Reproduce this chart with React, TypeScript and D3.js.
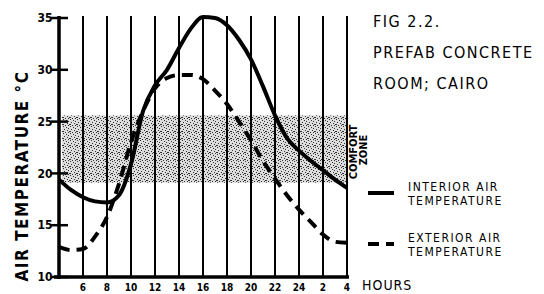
import React, { useEffect, useRef } from "react";
import * as d3 from "d3";

// hours since midnight (28 = 4am next day)
const hours = [4, 5, 6, 7, 8, 9, 10, 11, 12, 13, 14, 15, 16, 17, 18, 19, 20, 21, 22, 23, 24, 25, 26, 27, 28];
const interiorTemp = [19.4, 18.4, 17.7, 17.3, 17.2, 17.9, 20.9, 26.0, 28.5, 30.0, 32.1, 34.0, 35.1, 35.0, 34.3, 32.9, 31.0, 28.4, 25.6, 23.4, 22.2, 21.2, 20.3, 19.4, 18.6];
const exteriorTemp = [12.9, 12.6, 12.7, 13.9, 15.8, 19.0, 23.0, 26.0, 28.2, 29.2, 29.5, 29.5, 29.1, 28.0, 26.7, 25.0, 23.2, 21.2, 19.5, 17.9, 16.5, 15.3, 14.1, 13.4, 13.3];

const gridHours = [6, 8, 10, 12, 14, 16, 18, 20, 22, 24, 26, 28];
const hourLabels = ["6", "8", "10", "12", "14", "16", "18", "20", "22", "24", "2", "4"];
const tempTicks = [10, 15, 20, 25, 30, 35];
const comfortZone = [19.1, 25.6];

const titleLines = ["FIG 2.2.", "PREFAB CONCRETE", "ROOM; CAIRO"];

const FONT = "'DejaVu Sans Condensed', 'DejaVu Sans', sans-serif";

function App() {
  const ref = useRef(null);

  useEffect(() => {
    const svg = d3.select(ref.current);
    svg.selectAll("*").remove();

    const x = d3.scaleLinear().domain([4, 28]).range([59, 347]);
    const y = d3.scaleLinear().domain([10, 35]).range([277, 18]);

    // stipple pattern for comfort zone
    const defs = svg.append("defs");
    const pat = defs
      .append("pattern")
      .attr("id", "stipple")
      .attr("width", 7)
      .attr("height", 7)
      .attr("patternUnits", "userSpaceOnUse");
    pat.append("rect").attr("width", 7).attr("height", 7).attr("fill", "#dcdcdc");
    [[0, 0], [3, 1], [5, 2], [1, 3], [4, 4], [6, 5], [2, 6], [0, 5], [5, 6]].forEach(([px, py]) => {
      pat.append("rect").attr("x", px).attr("y", py).attr("width", 1).attr("height", 1).attr("fill", "#333");
    });

    svg
      .append("rect")
      .attr("x", x(4) + 3)
      .attr("y", y(comfortZone[1]))
      .attr("width", x(28) - x(4) - 3)
      .attr("height", y(comfortZone[0]) - y(comfortZone[1]))
      .attr("fill", "url(#stipple)");

    // vertical hour lines
    svg
      .selectAll(".grid")
      .data(gridHours)
      .join("line")
      .attr("x1", (d) => x(d))
      .attr("x2", (d) => x(d))
      .attr("y1", 16)
      .attr("y2", 277)
      .attr("stroke", "black")
      .attr("stroke-width", 2);

    // axes
    svg.append("line").attr("x1", x(4)).attr("x2", x(4)).attr("y1", 16).attr("y2", 279)
      .attr("stroke", "black").attr("stroke-width", 3.5);
    svg.append("line").attr("x1", 54).attr("x2", x(28) + 2).attr("y1", 277).attr("y2", 277)
      .attr("stroke", "black").attr("stroke-width", 3.5);

    svg
      .selectAll(".ytick")
      .data(tempTicks)
      .join("line")
      .attr("x1", 51)
      .attr("x2", 68)
      .attr("y1", (d) => y(d))
      .attr("y2", (d) => y(d))
      .attr("stroke", "black")
      .attr("stroke-width", 2.5);

    svg
      .selectAll(".ylab")
      .data(tempTicks)
      .join("text")
      .attr("x", 45)
      .attr("y", (d) => y(d))
      .attr("dy", "0.35em")
      .attr("text-anchor", "middle")
      .attr("font-family", FONT)
      .attr("font-weight", "bold")
      .attr("font-size", 12)
      .text((d) => d);

    svg
      .selectAll(".xlab")
      .data(gridHours)
      .join("text")
      .attr("x", (d) => x(d))
      .attr("y", 291)
      .attr("text-anchor", "middle")
      .attr("font-family", FONT)
      .attr("font-weight", "bold")
      .attr("font-size", 10)
      .text((d, i) => hourLabels[i]);

    // curves
    const line = d3
      .line<number>()
      .x((d, i) => x(hours[i]))
      .y((d) => y(d))
      .curve(d3.curveMonotoneX);

    svg.append("path").attr("d", line(exteriorTemp)).attr("fill", "none")
      .attr("stroke", "black").attr("stroke-width", 4).attr("stroke-dasharray", "11,7");
    svg.append("path").attr("d", line(interiorTemp)).attr("fill", "none")
      .attr("stroke", "black").attr("stroke-width", 4);

    // comfort zone label
    const cz = svg.append("g").attr("transform", `translate(357,152) rotate(-90)`);
    cz.append("text").attr("x", 0).attr("y", 0).attr("text-anchor", "middle")
      .attr("font-family", FONT).attr("font-weight", "bold").attr("font-size", 11).text("COMFORT");
    cz.append("text").attr("x", 2).attr("y", 10).attr("text-anchor", "middle")
      .attr("font-family", FONT).attr("font-weight", "bold").attr("font-size", 11).text("ZONE");

    // y axis title
    svg.append("text")
      .attr("transform", `translate(28,176) rotate(-90)`)
      .attr("text-anchor", "middle")
      .attr("font-family", FONT)
      .attr("font-weight", "bold")
      .attr("font-size", 17)
      .attr("letter-spacing", 1.5)
      .text("AIR TEMPERATURE °C");

    // title
    svg
      .selectAll(".title")
      .data(titleLines)
      .join("text")
      .attr("x", 373)
      .attr("y", (d, i) => 27 + i * 31)
      .attr("font-family", FONT)
      .attr("font-size", 16)
      .attr("letter-spacing", 1.5)
      .text((d) => d);

    // legend
    const legend = [
      { label: ["INTERIOR AIR", "TEMPERATURE"], y: 193, dash: null },
      { label: ["EXTERIOR AIR", "TEMPERATURE"], y: 244, dash: "11,7" },
    ];
    legend.forEach((l) => {
      svg.append("line").attr("x1", 368).attr("x2", 394).attr("y1", l.y).attr("y2", l.y)
        .attr("stroke", "black").attr("stroke-width", 4).attr("stroke-dasharray", l.dash);
      l.label.forEach((t, i) => {
        svg.append("text").attr("x", 408).attr("y", l.y - 2 + i * 14)
          .attr("font-family", FONT).attr("font-size", 12).attr("letter-spacing", 1.5).text(t);
      });
    });

    svg.append("text").attr("x", 362).attr("y", 290).attr("font-family", FONT)
      .attr("font-size", 14).attr("letter-spacing", 1).text("HOURS");
  }, []);

  return (
    <svg
      ref={ref}
      width={544}
      height={294}
      style={{ position: "absolute", left: 0, top: 0, background: "white" }}
    />
  );
}

export default App;
